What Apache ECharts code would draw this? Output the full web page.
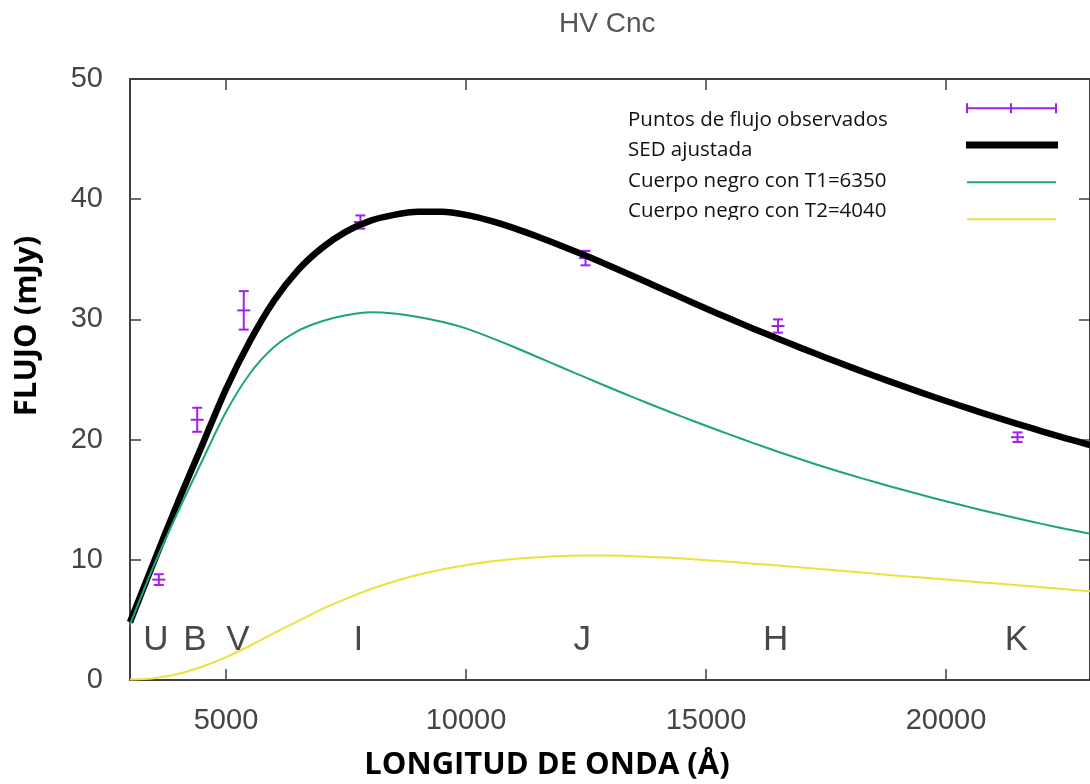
<!DOCTYPE html>
<html><head><meta charset="utf-8">
<script src="https://cdn.jsdelivr.net/npm/echarts@6/dist/echarts.min.js"></script>
<style>html,body{margin:0;padding:0;background:#fff}#c{width:1090px;height:784px}</style>
</head><body><div id="c"></div>
<script>
// ---------- data ----------
const chartTitle = 'HV Cnc';
const xAxisName = 'LONGITUD DE ONDA (Å)';
const yAxisName = 'FLUJO (mJy)';
const xTicks = [5000, 10000, 15000, 20000];

const obsWavelength = [3600, 4400, 5370, 7800, 12490, 16500, 21490];
const obsFlux       = [8.35, 21.65, 30.75, 38.1, 35.1, 29.45, 20.2];
const obsError      = [0.45, 1.0, 1.6, 0.55, 0.6, 0.55, 0.4];

const curveWavelength = [3000, 3500, 4000, 4500, 5000, 5500, 6000, 6500, 7000, 7500, 8000, 8500, 9000, 9500, 10000, 10500, 11000, 11500, 12000, 12500, 13000, 13500, 14000, 14500, 15000, 15500, 16000, 16500, 17000, 17500, 18000, 18500, 19000, 19500, 20000, 20500, 21000, 21500, 22000, 22500, 23000];
const sedFlux = [4.8, 9.85, 14.8, 19.5, 24.2, 28.2, 31.55, 34.1, 35.95, 37.3, 38.2, 38.7, 38.95, 38.95, 38.7, 38.22, 37.6, 36.88, 36.1, 35.3, 34.45, 33.57, 32.68, 31.79, 30.91, 30.05, 29.21, 28.39, 27.59, 26.81, 26.05, 25.31, 24.59, 23.89, 23.21, 22.55, 21.91, 21.29, 20.69, 20.11, 19.55];
const t1Flux  = [4.6, 9.55, 14.0, 18.2, 22.3, 25.5, 27.7, 29.05, 29.85, 30.35, 30.6, 30.5, 30.2, 29.8, 29.25, 28.5, 27.7, 26.85, 26.0, 25.15, 24.31, 23.49, 22.69, 21.91, 21.15, 20.41, 19.69, 18.99, 18.32, 17.68, 17.07, 16.49, 15.93, 15.39, 14.87, 14.37, 13.89, 13.43, 12.99, 12.57, 12.17];
const t2Flux  = [0.05, 0.15, 0.5, 1.1, 1.9, 2.85, 3.9, 4.9, 5.9, 6.75, 7.55, 8.2, 8.75, 9.2, 9.55, 9.85, 10.07, 10.22, 10.31, 10.35, 10.35, 10.3, 10.22, 10.1, 9.97, 9.83, 9.68, 9.52, 9.36, 9.19, 9.02, 8.85, 8.68, 8.52, 8.36, 8.2, 8.04, 7.88, 7.72, 7.55, 7.38];

const bandNames      = ['U', 'B', 'V', 'I', 'J', 'H', 'K'];
const bandWavelength = [3540, 4355, 5247, 7757, 12420, 16450, 21467];
const bandFlux       = [3.3, 3.3, 3.3, 3.3, 3.3, 3.3, 3.3];

const legendLabels = ['Puntos de flujo observados', 'SED ajustada', 'Cuerpo negro con T1=6350', 'Cuerpo negro con T2=4040'];

// ---------- styles ----------
const purple = '#a020f0', teal = '#1fa27e', yellow = '#ece23f', axisColor = '#404040';
const tickFont = 'Liberation Sans, Arial, sans-serif';
const calFont = 'Open Sans, sans-serif';

const zip = (a, b) => a.map((v, i) => [v, b[i]]);

const chart = echarts.init(document.getElementById('c'), null, {renderer: 'canvas'});

const baseX = {
  type: 'value', min: 3000, max: 23000,
  axisLine: {show: true, onZero: false, lineStyle: {color: axisColor, width: 2}},
  axisTick: {show: true, inside: true, length: 11, customValues: xTicks, lineStyle: {color: axisColor, width: 1.5}},
  splitLine: {show: false}
};
const baseY = {
  type: 'value', min: 0, max: 50, interval: 10,
  axisLine: {show: true, onZero: false, lineStyle: {color: axisColor, width: 2}},
  axisTick: {show: true, inside: true, length: 11, lineStyle: {color: axisColor, width: 1.5}},
  splitLine: {show: false}
};

const legendTop = 119.7, legendStep = 30.5, legendTextX = 628, sampleX1 = 967, sampleX2 = 1056;

const graphics = [
  {type: 'text', x: 27, y: 326, rotation: Math.PI / 2,
   style: {text: yAxisName, font: 'bold 31px ' + calFont, fill: '#000', align: 'center', verticalAlign: 'middle'}},
  {type: 'text', x: 547, y: 765,
   style: {text: xAxisName, font: 'bold 31px ' + calFont, fill: '#000', align: 'center', verticalAlign: 'middle'}}
];
legendLabels.forEach((t, i) => {
  graphics.push({type: 'text', x: legendTextX, y: legendTop + i * legendStep,
    style: {text: t, font: '20.5px ' + calFont, fill: '#111', align: 'left', verticalAlign: 'middle'}});
});
// clipped bottom of last legend line
graphics.push({type: 'rect', shape: {x: 620, y: 220, width: 280, height: 9}, style: {fill: '#fff'}, z: 200});
// legend samples
const ebY = 108.3;
[[sampleX1, ebY, sampleX2, ebY], [sampleX1, ebY - 5, sampleX1, ebY + 5], [sampleX2, ebY - 5, sampleX2, ebY + 5], [1011, ebY - 5, 1011, ebY + 5]]
  .forEach(s => graphics.push({type: 'line', shape: {x1: s[0], y1: s[1], x2: s[2], y2: s[3]}, style: {stroke: purple, lineWidth: 2}}));
graphics.push({type: 'line', shape: {x1: 966, y1: 145, x2: 1058, y2: 145}, style: {stroke: '#000', lineWidth: 7}});
graphics.push({type: 'line', shape: {x1: sampleX1, y1: 182.3, x2: sampleX2, y2: 182.3}, style: {stroke: teal, lineWidth: 2}});
graphics.push({type: 'line', shape: {x1: sampleX1, y1: 219.3, x2: sampleX2, y2: 219.3}, style: {stroke: yellow, lineWidth: 2}});

const option = {
  animation: false,
  backgroundColor: '#fff',
  title: {text: chartTitle, left: 554, top: 5,
          textStyle: {fontFamily: tickFont, fontSize: 28, fontWeight: 'normal', color: '#555'}},
  grid: {left: 130, top: 79, width: 965, height: 601, containLabel: false},
  xAxis: [
    Object.assign({}, baseX, {position: 'bottom',
      axisLabel: {show: true, customValues: xTicks, margin: 26, formatter: v => String(v),
                  fontFamily: tickFont, fontSize: 29, color: '#444'}}),
    Object.assign({}, baseX, {position: 'top', axisLabel: {show: false}})
  ],
  yAxis: [
    Object.assign({}, baseY, {position: 'left',
      axisLabel: {show: true, margin: 27, fontFamily: tickFont, fontSize: 29, color: '#444'}}),
    Object.assign({}, baseY, {position: 'right', axisLabel: {show: false}})
  ],
  series: [
    {
      name: legendLabels[0], type: 'custom', xAxisIndex: 0, yAxisIndex: 0, z: 2,
      data: obsWavelength.map((w, i) => [w, obsFlux[i], obsError[i]]),
      renderItem: (params, api) => {
        const x = api.value(0), y = api.value(1), e = api.value(2);
        const c = api.coord([x, y]), t = api.coord([x, y + e]), b = api.coord([x, y - e]);
        const st = {stroke: purple, lineWidth: 2};
        return {type: 'group', children: [
          {type: 'line', shape: {x1: c[0], y1: t[1], x2: c[0], y2: b[1]}, style: st},
          {type: 'line', shape: {x1: c[0] - 5, y1: t[1], x2: c[0] + 5, y2: t[1]}, style: st},
          {type: 'line', shape: {x1: c[0] - 5, y1: b[1], x2: c[0] + 5, y2: b[1]}, style: st},
          {type: 'line', shape: {x1: c[0] - 6.5, y1: c[1], x2: c[0] + 6.5, y2: c[1]}, style: st}
        ]};
      }
    },
    {name: legendLabels[1], type: 'line', z: 3, data: zip(curveWavelength, sedFlux), smooth: 0.3, showSymbol: false,
     lineStyle: {color: '#000', width: 6.5}},
    {name: legendLabels[2], type: 'line', z: 4, data: zip(curveWavelength, t1Flux), smooth: 0.3, showSymbol: false,
     lineStyle: {color: teal, width: 2}},
    {name: legendLabels[3], type: 'line', z: 5, data: zip(curveWavelength, t2Flux), smooth: 0.3, showSymbol: false,
     lineStyle: {color: yellow, width: 2}},
    {name: 'bands', type: 'scatter', z: 6, symbolSize: 0, silent: true,
     data: bandNames.map((n, i) => ({name: n, value: [bandWavelength[i], bandFlux[i]]})),
     label: {show: true, position: 'inside', formatter: p => p.name,
             fontFamily: tickFont, fontSize: 35, color: '#1a1a1a'}}
  ],
  graphic: graphics
};
chart.setOption(option);
</script>
</body></html>
